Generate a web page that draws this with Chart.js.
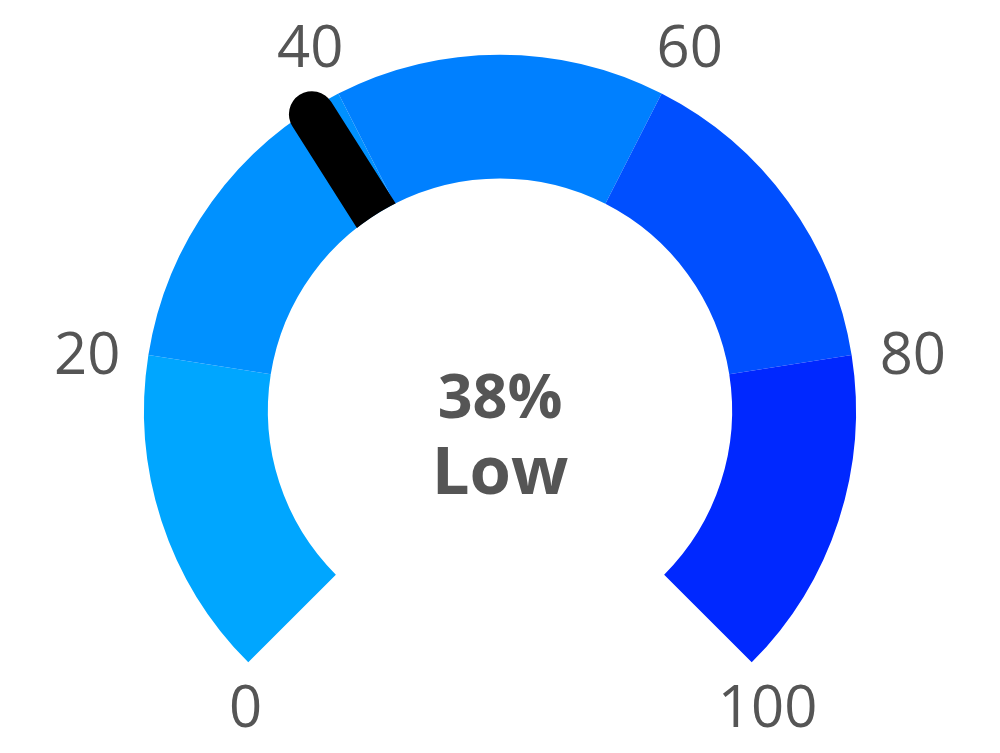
<!DOCTYPE html>
<html>
<head>
<meta charset="utf-8">
<style>
  html, body { margin: 0; padding: 0; background: #fff; }
  #wrap { width: 1000px; height: 753px; }
</style>
<script src="https://cdn.jsdelivr.net/npm/chart.js@4"></script>
</head>
<body>
<div id="wrap"><canvas id="gauge"></canvas></div>
<script>
// gauge bands (0-100 split in five)
const bandLabels = ['0-20', '20-40', '40-60', '60-80', '80-100'];
const bandValues = [20, 20, 20, 20, 20];
const bandColors = ['#00a6ff', '#0091ff', '#0080ff', '#004fff', '#0028ff'];
const tickLabels = ['0', '20', '40', '60', '80', '100'];
const gaugeValue = 38;
const gaugeText = 'Low';

const textColor = '#555555';
const totalRange = bandValues.reduce((a, b) => a + b, 0);

// angle (canvas radians) for a value on the gauge
function valueAngle(chart, v) {
  const opts = chart.options;
  const start = (opts.rotation - 90) * Math.PI / 180;
  return start + (v / totalRange) * opts.circumference * Math.PI / 180;
}

const gaugeExtras = {
  id: 'gaugeExtras',
  afterDraw(chart) {
    const arc = chart.getDatasetMeta(0).data[0];
    if (!arc) return;
    const ctx = chart.ctx;
    const cx = arc.x, cy = arc.y;
    const rOut = arc.outerRadius, rIn = arc.innerRadius;

    // needle, cut off at the inner edge of the ring
    const a = valueAngle(chart, gaugeValue);
    ctx.save();
    ctx.beginPath();
    ctx.rect(0, 0, chart.width, chart.height);
    ctx.arc(cx, cy, rIn, 0, Math.PI * 2);
    ctx.clip('evenodd');
    ctx.strokeStyle = '#000';
    ctx.lineWidth = 46;
    ctx.lineCap = 'round';
    ctx.beginPath();
    ctx.moveTo(cx + Math.cos(a) * (rIn - 30), cy + Math.sin(a) * (rIn - 30));
    ctx.lineTo(cx + Math.cos(a) * (rOut - 5), cy + Math.sin(a) * (rOut - 5));
    ctx.stroke();
    ctx.restore();

    // tick labels
    ctx.save();
    ctx.fillStyle = textColor;
    ctx.font = '58px "Open Sans"';
    ctx.textAlign = 'center';
    ctx.textBaseline = 'middle';
    tickLabels.forEach(t => {
      const ang = valueAngle(chart, Number(t));
      const dx = Math.cos(ang), dy = Math.sin(ang);
      let x, y;
      if (dy > 0.3) {
        // ends of the gauge: label sits under the tip of the ring
        const w = ctx.measureText(t).width;
        x = cx + dx * rOut - 12 + w * 0.28;
        y = cy + dy * rOut + 48;
      } else {
        x = cx + dx * 418;
        y = cy + dy * 418 + 12;
      }
      ctx.fillText(t, x, y);
    });

    // center text
    ctx.font = 'bold 61px "Open Sans"';
    ctx.fillText(gaugeValue + '%', cx, cy - 10);
    ctx.font = 'bold 67px "Open Sans"';
    ctx.fillText(gaugeText, cx, cy + 64);
    ctx.restore();
  }
};

new Chart(document.getElementById('gauge'), {
  type: 'doughnut',
  data: {
    labels: bandLabels,
    datasets: [{
      data: bandValues,
      backgroundColor: bandColors,
      borderWidth: 0
    }]
  },
  options: {
    responsive: true,
    maintainAspectRatio: false,
    animation: false,
    rotation: -135,
    circumference: 270,
    cutout: '65.2%',
    radius: 356,
    layout: { padding: { top: 0, bottom: 36 } },
    plugins: {
      legend: { display: false },
      tooltip: { enabled: false }
    }
  },
  plugins: [gaugeExtras]
});
</script>
</body>
</html>
